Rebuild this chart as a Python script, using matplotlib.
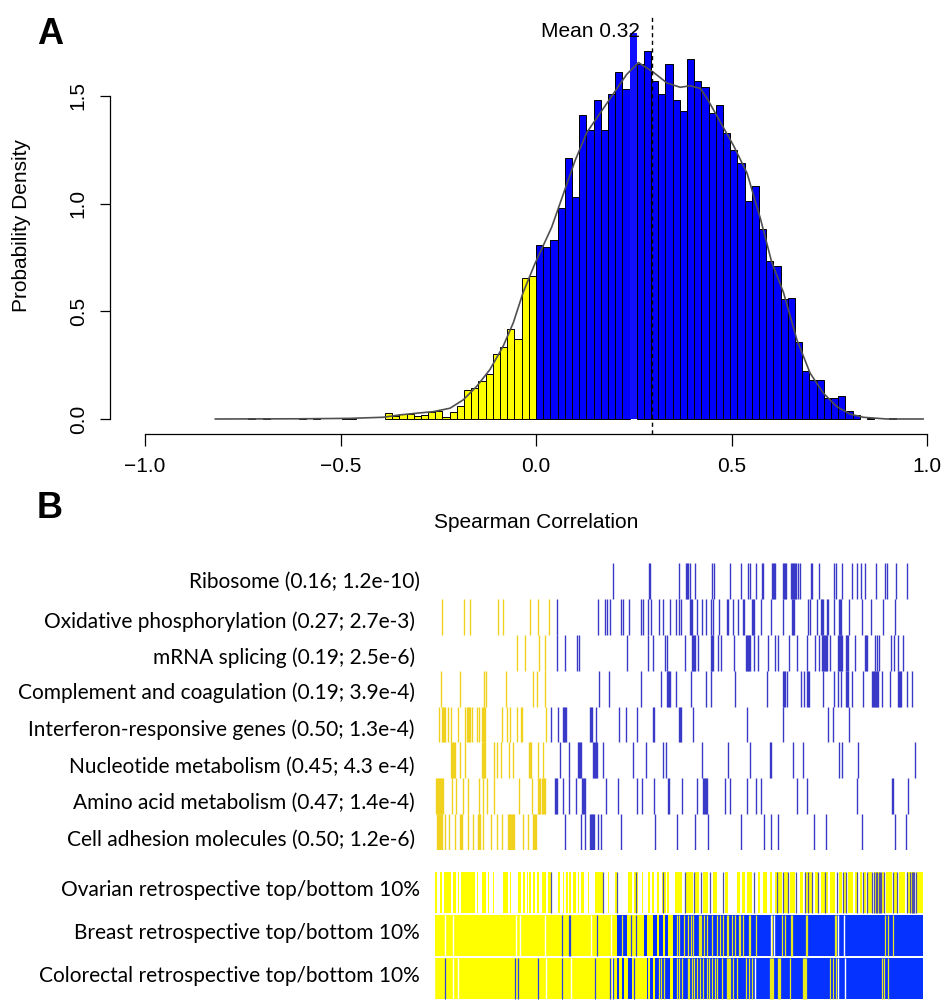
import numpy as np
import matplotlib
matplotlib.use("Agg")
import matplotlib.pyplot as plt

# ---------------- panel A data ----------------
bin_width = 0.0184
# densities for bins left of 0 (bin -40 ... bin -1)
yellow_density = [0.006, 0, 0.006, 0, 0, 0, 0, 0.006, 0, 0.006,
                  0, 0, 0, 0.006, 0.006, 0, 0, 0, 0,
                  0.03, 0.014, 0.023, 0.023, 0.014, 0.019, 0.034, 0.039, 0.011, 0.034,
                  0.061, 0.134, 0.142, 0.178, 0.21, 0.30, 0.335, 0.42, 0.372, 0.653, 0.665]
# densities for bins right of 0 (bin 0 ... bin 49)
blue_density = [0.81, 0.80, 0.83, 0.98, 1.21, 1.03, 1.41, 1.34, 1.48, 1.34,
                1.51, 1.61, 1.53, 1.79, 1.65, 1.71, 1.57, 1.51, 1.65, 1.48,
                1.43, 1.67, 1.57, 1.54, 1.42, 1.46, 1.33, 1.25, 1.19, 1.01,
                1.08, 0.88, 0.735, 0.71, 0.556, 0.56, 0.358, 0.224, 0.18, 0.18,
                0.097, 0.097, 0.107, 0.037, 0.019, 0, 0.006, 0, 0, 0.006]
peak_bin = 13

curve_x = [-0.82, -0.6, -0.476, -0.391, -0.348, -0.305, -0.263, -0.22, -0.186, -0.152,
           -0.118, -0.084, -0.058, -0.033, -0.003, 0.04, 0.10, 0.13, 0.164, 0.198,
           0.232, 0.262, 0.30, 0.335, 0.369, 0.394, 0.42, 0.437, 0.471, 0.505,
           0.54, 0.574, 0.603, 0.633, 0.667, 0.701, 0.735, 0.769, 0.803, 0.837,
           0.897, 0.99]
curve_y = [0.0, 0.001, 0.003, 0.008, 0.019, 0.027, 0.034, 0.05, 0.089, 0.151,
           0.229, 0.338, 0.447, 0.587, 0.72, 0.89, 1.20, 1.33, 1.42, 1.51,
           1.60, 1.655, 1.61, 1.56, 1.54, 1.547, 1.535, 1.49, 1.38, 1.27,
           1.14, 0.93, 0.727, 0.587, 0.369, 0.213, 0.12, 0.058, 0.023, 0.008,
           0.0, 0.0]
mean_pos = 0.297
mean_label = "Mean 0.32"

# ---------------- panel B data ----------------
pathways = ["Ribosome (0.16; 1.2e-10)",
            "Oxidative phosphorylation (0.27; 2.7e-3)",
            "mRNA splicing (0.19; 2.5e-6)",
            "Complement and coagulation (0.19; 3.9e-4)",
            "Interferon-responsive genes (0.50; 1.3e-4)",
            "Nucleotide metabolism (0.45; 4.3 e-4)",
            "Amino acid metabolism (0.47; 1.4e-4)",
            "Cell adhesion molecules (0.50; 1.2e-6)"]

pathway_yellow = [
    [],
    [442, 464, 470, 498, 503, 530, 538, 549],
    [517, 525, 539, 545],
    [441, 460, 484, 486, 506, 533, 537, 545],
    [439, 442, 443, 444, 445, 448, 451, 458, 465, 467, 468, 469, 470, 472, 477, 479,
     482, 483, 484, 485, 502, 507, 510, 517, 521, 522, 546],
    [451, 452, 453, 454, 455, 460, 465, 482, 483, 484, 485, 494, 497, 501, 509, 513,
     529, 530, 531, 538, 543],
    [436, 437, 438, 439, 440, 441, 442, 443, 452, 456, 463, 468, 479, 483, 487, 494,
     519, 532, 538, 539, 540, 542, 543, 544, 545],
    [437, 438, 439, 440, 441, 442, 445, 449, 455, 460, 461, 462, 468, 473, 478, 479,
     480, 483, 491, 497, 502, 508, 509, 510, 511, 512, 513, 514, 523, 528, 533, 534,
     535, 536],
]
pathway_blue = [
    [613, 649, 650, 679, 686, 687, 688, 690, 695, 712, 714, 730, 741, 748, 750, 756,
     762, 763, 772, 773, 774, 775, 783, 784, 785, 786, 791, 792, 793, 794, 795, 796,
     798, 800, 811, 812, 819, 834, 836, 842, 852, 857, 861, 865, 876, 885, 887, 896, 907],
    [557, 598, 605, 607, 610, 621, 623, 629, 641, 643, 648, 651, 659, 663, 670, 676,
     679, 681, 690, 691, 692, 697, 702, 706, 711, 713, 719, 727, 728, 733, 738, 743,
     744, 752, 753, 754, 761, 771, 783, 792, 793, 794, 808, 810, 817, 821, 822, 823,
     827, 828, 834, 839, 840, 841, 849, 862, 871, 883, 895],
    [557, 565, 577, 579, 627, 648, 653, 665, 667, 685, 692, 693, 694, 695, 698, 711,
     712, 713, 718, 721, 734, 746, 747, 748, 749, 750, 754, 758, 768, 775, 778, 789,
     797, 807, 815, 819, 822, 823, 824, 825, 826, 827, 830, 838, 839, 840, 841, 842,
     846, 847, 848, 855, 865, 866, 867, 875, 877, 879, 891, 894, 898, 903],
    [599, 609, 641, 661, 667, 668, 669, 670, 676, 691, 706, 711, 735, 767, 783, 784,
     785, 787, 801, 804, 807, 808, 809, 823, 834, 838, 841, 846, 847, 848, 852, 863,
     872, 873, 874, 875, 876, 877, 878, 882, 890, 898, 899, 900, 901, 907, 912],
    [551, 558, 563, 564, 565, 566, 590, 591, 592, 596, 619, 626, 637, 653, 654, 679,
     680, 681, 693, 747, 783, 828, 833, 849],
    [560, 569, 578, 579, 580, 581, 593, 594, 595, 596, 597, 603, 633, 646, 663, 666,
     702, 728, 750, 770, 771, 793, 803, 839, 842, 858, 915],
    [555, 556, 557, 563, 569, 576, 582, 583, 584, 585, 606, 618, 637, 642, 654, 668,
     669, 682, 697, 703, 704, 705, 706, 707, 725, 730, 747, 756, 761, 797, 807, 857,
     892, 893, 908],
    [565, 581, 585, 590, 591, 592, 593, 594, 598, 601, 621, 655, 677, 695, 708, 741,
     764, 771, 778, 814, 826, 862, 895, 906],
]

cohorts = ["Ovarian retrospective top/bottom 10%",
           "Breast retrospective top/bottom 10%",
           "Colorectal retrospective top/bottom 10%"]

cohort_yellow_spans = [
    [(433, 437), (440, 442), (444, 451), (453, 456), (458, 459), (461, 475), (477, 478),
     (482, 486), (488, 489), (493, 494), (503, 508), (510, 511), (518, 521), (523, 525),
     (527, 528), (529, 531), (533, 535), (537, 539), (542, 546), (548, 552), (558, 560),
     (563, 564), (566, 568), (569, 571), (573, 576), (578, 579), (581, 584), (588, 589),
     (595, 603), (608, 609), (615, 617), (628, 632), (634, 638), (642, 643), (648, 650),
     (652, 654), (657, 659), (662, 666), (667, 669), (675, 682), (686, 693), (695, 699),
     (703, 708), (713, 717), (725, 728), (737, 740), (742, 745), (747, 752), (758, 760),
     (763, 767), (770, 772), (775, 782), (784, 788), (790, 795), (800, 803), (805, 812),
     (815, 818), (821, 828), (830, 835), (839, 842), (844, 846), (848, 853), (855, 858),
     (860, 862), (864, 866), (868, 872), (874, 880), (882, 884), (886, 892), (894, 897),
     (899, 905), (907, 915), (917, 923)],
    [(433, 617), (627, 644), (647, 653), (657, 659), (663, 665), (668, 673)],
    [(435, 617), (619, 622), (624, 628), (632, 647), (648, 650), (653, 655), (670, 673)],
]
cohort_blue_spans = [
    [],
    [(617, 627), (644, 647), (653, 657), (659, 663), (665, 668), (673, 923)],
    [(617, 619), (622, 624), (628, 632), (647, 648), (650, 653), (655, 670), (673, 923)],
]
cohort_blue_lines = [
    [551, 603, 617, 636, 663, 685, 694, 701, 710, 723, 754, 777, 783, 788, 796, 805,
     808, 812, 818, 825, 837, 843, 846, 857, 863, 867, 872, 874, 876, 877, 879, 880,
     881, 884, 893, 897, 907, 910, 912, 913, 914, 916],
    [562, 569, 570, 597, 631, 636],
    [445, 515, 518, 538, 562, 595, 610, 613, 634],
]
cohort_yellow_lines = [
    [],
    [622, 677, 679, 684, 688, 691, 693, 699, 700, 701, 704, 707, 712, 717, 720, 723,
     727, 728, 732, 735, 739, 740, 743, 749, 750, 756, 772, 782, 785, 791, 792, 806,
     807, 835, 836, 885, 888, 893],
    [659, 661, 664, 677, 679, 682, 688, 689, 692, 694, 697, 700, 703, 707, 709, 712,
     715, 717, 722, 727, 728, 729, 730, 733, 737, 746, 749, 752, 770, 771, 772, 773,
     778, 779, 780, 790, 803, 804, 805, 806, 830, 833, 836, 882, 884, 888],
]
cohort_white_gaps = [
    [],
    [445, 453, 516, 520, 545, 591, 611, 771, 774, 838, 844],
    [434, 453, 458, 546, 571, 612, 755, 838, 845],
]

W, H = 945, 1000
fig = plt.figure(figsize=(W / 100, H / 100), dpi=100)
fs = 15
font_a = "Liberation Sans"
font_b = "Lato"

# ---------------- panel A ----------------
ax = fig.add_axes([145 / W, 1 - 434 / H, (927 - 145) / W, (434 - 15) / H])
px_per_unit = 215.4
ax.set_xlim(-1, 1)
ax.set_ylim(-(434 - 419) / px_per_unit, (419 - 15) / px_per_unit)

y_idx = np.arange(-len(yellow_density), 0)
y_h = np.array(yellow_density)
keep = y_h > 0
ax.bar(y_idx[keep] * bin_width, y_h[keep], width=bin_width, align="edge",
       color="#ffff00", edgecolor="black", linewidth=0.7, zorder=2)

b_idx = np.arange(len(blue_density))
b_h = np.array(blue_density)
keep = (b_h > 0) & (b_idx != peak_bin)
ax.bar(b_idx[keep] * bin_width, b_h[keep], width=bin_width, align="edge",
       color="#0000ff", edgecolor="black", linewidth=0.7, zorder=2)
ax.bar(peak_bin * bin_width, b_h[peak_bin], width=bin_width, align="edge",
       color="#1010ff", edgecolor="none", zorder=2)

ax.plot(curve_x, curve_y, color="#505050", lw=1.2, zorder=3)
ax.axvline(mean_pos, color="black", lw=1.0, ls=(0, (3, 2.5)), zorder=4)
ax.annotate(mean_label, xy=(mean_pos, 1.773), xytext=(-9, 0), textcoords="offset points",
            ha="right", va="baseline", fontsize=fs, family=font_a)

for s in ["top", "right"]:
    ax.spines[s].set_visible(False)
ax.spines["left"].set_position(("outward", 25))
ax.spines["left"].set_bounds(0, 1.5)
ax.spines["bottom"].set_bounds(-1, 1)
for s in ["left", "bottom"]:
    ax.spines[s].set_linewidth(0.9)

ax.set_xticks([-1.0, -0.5, 0.0, 0.5, 1.0])
ax.set_xticklabels(["\u22121.0", "\u22120.5", "0.0", "0.5", "1.0"], fontsize=fs, family=font_a)
ax.set_yticks([0.0, 0.5, 1.0, 1.5])
ax.set_yticklabels(["0.0", "0.5", "1.0", "1.5"], fontsize=fs, family=font_a,
                   rotation=90, va="center")
ax.tick_params(axis="x", length=8.6, width=0.9, pad=8)
ax.tick_params(axis="y", length=7.2, width=0.9, pad=9)

fig.text(22 / W, 1 - 226 / H, "Probability Density", rotation=90, ha="center",
         va="center", fontsize=fs, family=font_a)
fig.text(536 / W, 1 - 523 / H, "Spearman Correlation", ha="center", va="center",
         fontsize=fs, family=font_a)
fig.text(50 / W, 1 - 35 / H, "A", ha="center", va="center", fontsize=26,
         fontweight="bold", family=font_a)
fig.text(50 / W, 1 - 508 / H, "B", ha="center", va="center", fontsize=26,
         fontweight="bold", family=font_a)

# ---------------- panel B: pathway barcodes ----------------
bx = fig.add_axes([435 / W, 1 - 850 / H, (925 - 435) / W, (850 - 563) / H])
bx.set_xlim(435, 925)
bx.set_ylim(len(pathways), 0)
bx.axis("off")
for i in range(len(pathways)):
    if pathway_yellow[i]:
        bx.vlines(pathway_yellow[i], i, i + 1, color="#f0d21e", lw=1.0)
    bx.vlines(pathway_blue[i], i, i + 1, color="#3a3ac8", lw=1.0)

label_y = [582, 622, 658, 693, 730, 767, 803, 840]
label_x = [420, 415, 415, 415, 415, 415, 415, 415]
for name, xx, yy in zip(pathways, label_x, label_y):
    fig.text(xx / W, 1 - yy / H, name, ha="right", va="center", fontsize=15,
             family=font_b)

# ---------------- panel B: cohort strips ----------------
cx = fig.add_axes([435 / W, 0, (925 - 435) / W, (1000 - 871) / H])
cx.set_xlim(435, 925)
cx.set_ylim(len(cohorts), 0)
cx.axis("off")
for i in range(len(cohorts)):
    y0, hgt = i + 0.02, 0.96
    cx.broken_barh([(a, b - a) for a, b in cohort_yellow_spans[i]], (y0, hgt),
                   facecolors="#ffff00", edgecolor="none")
    if cohort_blue_spans[i]:
        cx.broken_barh([(a, b - a) for a, b in cohort_blue_spans[i]], (y0, hgt),
                       facecolors="#0532ff", edgecolor="none")
    if cohort_white_gaps[i]:
        cx.vlines(cohort_white_gaps[i], y0, y0 + hgt, color="white", lw=1.0)
    line_col = "#5050a8" if i == 0 else "#2a44e0"
    cx.vlines(cohort_blue_lines[i], y0, y0 + hgt, color=line_col, lw=0.9)
    if cohort_yellow_lines[i]:
        cx.vlines(cohort_yellow_lines[i], y0, y0 + hgt, color="#e8e820", lw=0.9)

cohort_y = [890, 933, 976]
for name, yy in zip(cohorts, cohort_y):
    fig.text(420 / W, 1 - yy / H, name, ha="right", va="center", fontsize=15,
             family=font_b)

fig.savefig("out.png", dpi=100)
